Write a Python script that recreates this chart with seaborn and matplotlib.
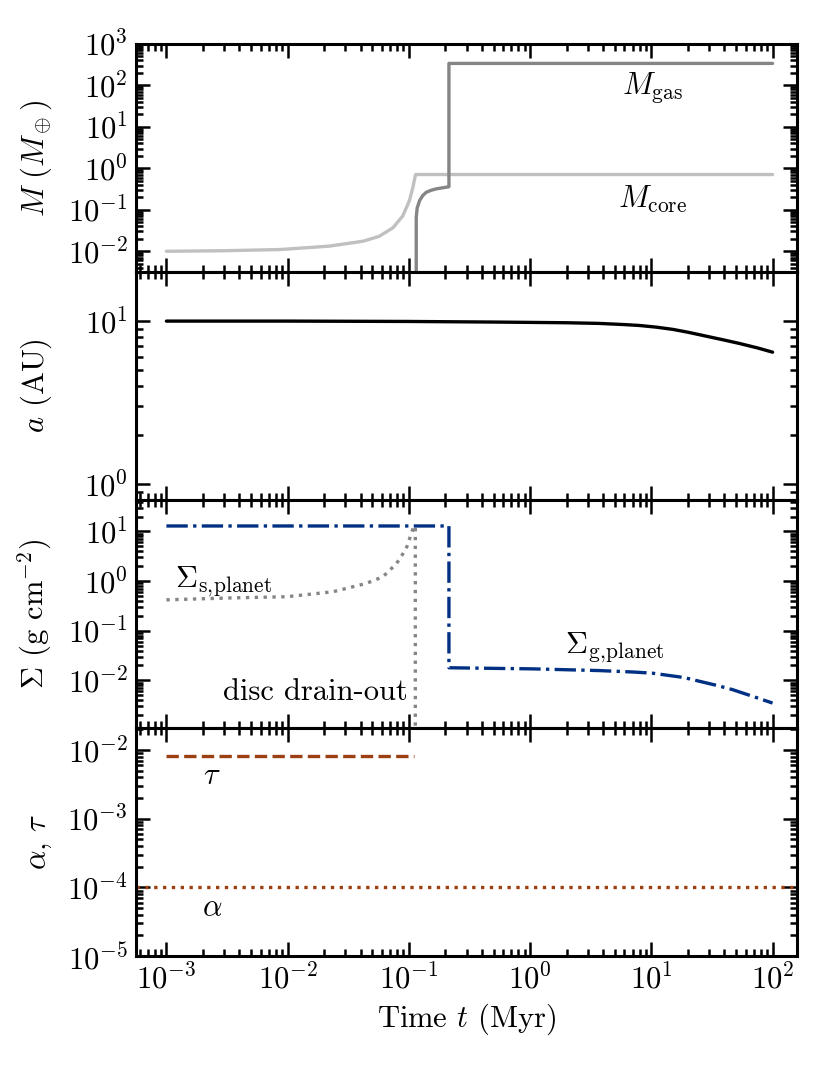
import numpy as np
import matplotlib
matplotlib.use("Agg")
import matplotlib.pyplot as plt
from matplotlib.ticker import LogLocator, NullFormatter
import seaborn as sns

# ---- data (time in Myr) ----
t_core = [1e-3, 3e-3, 8.6e-3, 2.2e-2, 4.2e-2, 5.7e-2, 7.4e-2, 8.9e-2, 0.101, 0.108, 0.1135, 100]
m_core = [0.010, 0.0103, 0.011, 0.0133, 0.0175, 0.023, 0.037, 0.071, 0.166, 0.35, 0.71, 0.71]

t_gas = [0.115, 0.115, 0.117, 0.1225, 0.13, 0.139, 0.152, 0.168, 0.19, 0.214, 0.214, 100]
m_gas = [1e-3, 0.065, 0.11, 0.166, 0.22, 0.264, 0.295, 0.32, 0.34, 0.36, 340, 340]

t_a = [1e-3, 0.01, 0.1, 0.56, 2, 3.7, 6, 8, 11, 15, 20, 28, 40, 53, 75, 100]
a_au = [10, 10, 9.95, 9.86, 9.77, 9.68, 9.52, 9.4, 9.18, 8.9, 8.55, 8.1, 7.65, 7.3, 6.85, 6.45]

t_sig_g = [1e-3, 0.214, 0.214, 0.3, 1.05, 3.7, 7, 10.2, 13, 17, 21, 25, 35, 47, 70, 100]
sig_g = [12.9, 12.9, 0.018, 0.0178, 0.0171, 0.0158, 0.0148, 0.014, 0.0129, 0.0118, 0.0107, 0.0096,
         0.0079, 0.0065, 0.0047, 0.0035]

t_sig_s = [1e-3, 3.55e-3, 9.8e-3, 2.36e-2, 4.45e-2, 6.1e-2, 7.9e-2, 9.5e-2, 0.108, 0.111, 0.113, 0.113]
sig_s = [0.42, 0.46, 0.485, 0.61, 0.9, 1.22, 2.25, 4.5, 11.3, 12.8, 12.8, 1e-4]

t_tau = [1e-3, 0.11]
tau = [8.3e-3, 8.3e-3]
alpha = 1e-4

GREY_LIGHT = "#c0c0c0"
GREY_DARK = "#858585"
NAVY = "#003083"
RUST = "#9c3f12"

sns.set_style("ticks")
plt.rcParams["font.family"] = ["serif"]
plt.rcParams["font.serif"] = ["cmr10", "DejaVu Serif"]
plt.rcParams["mathtext.fontset"] = "cm"
plt.rcParams["axes.unicode_minus"] = False
plt.rcParams["axes.formatter.use_mathtext"] = True
plt.rcParams["font.size"] = 22
for key in ["text.color", "axes.labelcolor", "xtick.color", "ytick.color", "axes.edgecolor"]:
    plt.rcParams[key] = "black"

fig, axes = plt.subplots(4, 1, sharex=True, figsize=(8.3, 10.65), dpi=100)
plt.subplots_adjust(left=0.164, right=0.960, top=0.9587, bottom=0.1023, hspace=0)
ax1, ax2, ax3, ax4 = axes

lw = 2.4
sns.lineplot(x=t_core, y=m_core, ax=ax1, color=GREY_LIGHT, lw=lw, estimator=None, sort=False)
sns.lineplot(x=t_gas, y=m_gas, ax=ax1, color=GREY_DARK, lw=lw, estimator=None, sort=False)
ax1.text(0.782, 0.81, r"$M_{\rm gas}$", transform=ax1.transAxes, ha="center", va="center")
ax1.text(0.782, 0.32, r"$M_{\rm core}$", transform=ax1.transAxes, ha="center", va="center")

sns.lineplot(x=t_a, y=a_au, ax=ax2, color="black", lw=lw, estimator=None, sort=False)

sns.lineplot(x=t_sig_g, y=sig_g, ax=ax3, color=NAVY, lw=lw, ls="-.", estimator=None, sort=False)
sns.lineplot(x=t_sig_s, y=sig_s, ax=ax3, color=GREY_DARK, lw=lw, ls=":", estimator=None, sort=False)
ax3.text(0.132, 0.64, r"$\Sigma_{\rm s,\!planet}$", transform=ax3.transAxes, ha="center", va="center")
ax3.text(0.725, 0.35, r"$\Sigma_{\rm g,\!planet}$", transform=ax3.transAxes, ha="center", va="center")
ax3.text(0.411, 0.157, "disc drain-out", transform=ax3.transAxes, ha="right", va="center")

sns.lineplot(x=t_tau, y=tau, ax=ax4, color=RUST, lw=lw, ls="--", estimator=None, sort=False)
ax4.axhline(alpha, color=RUST, lw=lw, ls=":")
ax4.text(0.115, 0.79, r"$\tau$", transform=ax4.transAxes, ha="center", va="center")
ax4.text(0.115, 0.21, r"$\alpha$", transform=ax4.transAxes, ha="center", va="center")

ax1.set_ylim(10 ** -2.5, 1e3)
ax2.set_ylim(0.8, 20)
ax3.set_ylim(1.1e-3, 43)
ax4.set_ylim(1e-5, 2.1e-2)
ax4.set_xlim(10 ** -3.25, 10 ** 2.2)

labels = [r"$M\ (M_\oplus)$", r"$a$ (AU)", r"$\Sigma$ (g cm$^{-2}$)", r"$\alpha$, $\tau$"]
for ax, lab in zip(axes, labels):
    ax.set_xscale("log")
    ax.set_yscale("log")
    ax.set_ylabel(lab)
    ax.yaxis.set_label_coords(-0.124, 0.5)
    for axis in (ax.xaxis, ax.yaxis):
        axis.set_major_locator(LogLocator(base=10, numticks=50))
        axis.set_minor_locator(LogLocator(base=10, subs=np.arange(2, 10), numticks=50))
        axis.set_minor_formatter(NullFormatter())
    ax.tick_params(which="both", direction="in", top=True, right=True, width=1.8)
    ax.tick_params(which="major", length=10, pad=6)
    ax.tick_params(which="minor", length=5)
    for sp in ax.spines.values():
        sp.set_linewidth(2.2)

ax4.set_xlabel(r"Time $t$ (Myr)")

fig.savefig("out.png", dpi=100)
